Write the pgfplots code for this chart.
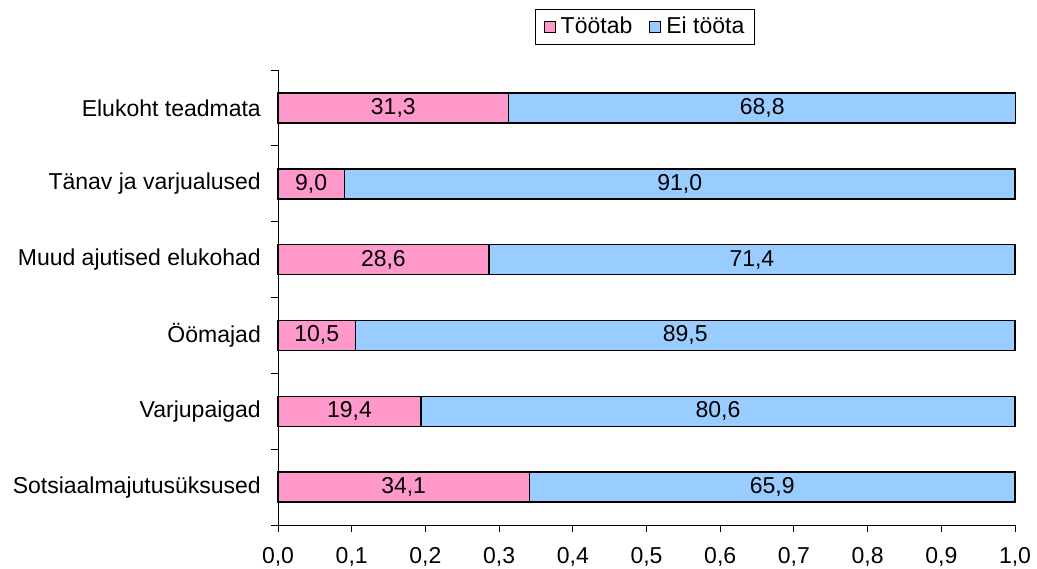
\documentclass[border=0pt]{standalone}
\usepackage{fontspec}
\setmainfont{Liberation Sans}
\usepackage{pgfplots}
\pgfplotsset{compat=1.18}
\usepackage{pgfplotstable}
\definecolor{tootab}{HTML}{FF99CC}
\definecolor{eitoota}{HTML}{99CCFF}

% shares in percent, rows bottom to top
\pgfplotstableread{
idx tootab eitoota
0 34.1 65.9
1 19.4 80.6
2 10.5 89.5
3 28.6 71.4
4 9.0 91.0
5 31.3 68.8
}\shares

\begin{document}
\fontsize{23bp}{27bp}\selectfont
\begin{tikzpicture}
\useasboundingbox (0bp,0bp) rectangle (1037bp,-569bp);
\begin{axis}[
  at={(278bp,-525bp)}, anchor=south west,
  scale only axis, width=737bp, height=455bp,
  xbar stacked, bar width=30bp,
  xmin=0, xmax=1, ymin=-0.5, ymax=5.5,
  clip=false,
  axis lines*=left,
  axis line style={black, line width=1bp},
  tick align=outside, major tick length=7bp,
  every tick/.style={black, line width=1bp},
  xtick={0,0.1,0.2,0.3,0.4,0.5,0.6,0.7,0.8,0.9,1},
  ytick={0,1,2,3,4,5},
  yticklabels={Sotsiaalmajutusüksused,Varjupaigad,Öömajad,Muud ajutised elukohad,Tänav ja varjualused,Elukoht teadmata},
  ytick style={draw=none},
  extra y ticks={-0.5,0.5,1.5,2.5,3.5,4.5,5.5},
  extra y tick labels={},
  extra y tick style={ytick style={draw=black}},
  /pgf/number format/.cd, use comma, fixed, fixed zerofill, precision=1, assume math mode=true,
  /pgfplots/.cd,
  xticklabel style={inner sep=0pt, yshift=-15bp},
  yticklabel style={inner sep=0pt, xshift=-10bp},
  nodes near coords,
  every node near coord/.append style={anchor=center, text=black},
  legend columns=2,
  legend style={at={(0.498,1.0945)}, anchor=center, draw=black, line width=1bp,
    inner xsep=8bp, inner ysep=5bp,
    /tikz/every odd column/.append style={column sep=3bp},
    /tikz/every even column/.append style={column sep=15bp}},
  legend cell align=left,
  legend image code/.code={\draw[#1, line width=1bp] (0bp,-5.5bp) rectangle (11bp,5.5bp);},
]
\addplot[fill=tootab, draw=black, line width=1.5bp, point meta={\thisrow{tootab}}]
  table[x expr=\thisrow{tootab}/100, y=idx] {\shares};
\addlegendentry{Töötab}
\addplot[fill=eitoota, draw=black, line width=1.5bp, point meta={\thisrow{eitoota}}]
  table[x expr=\thisrow{eitoota}/100, y=idx] {\shares};
\addlegendentry{Ei tööta}
\end{axis}
\end{tikzpicture}
\end{document}
